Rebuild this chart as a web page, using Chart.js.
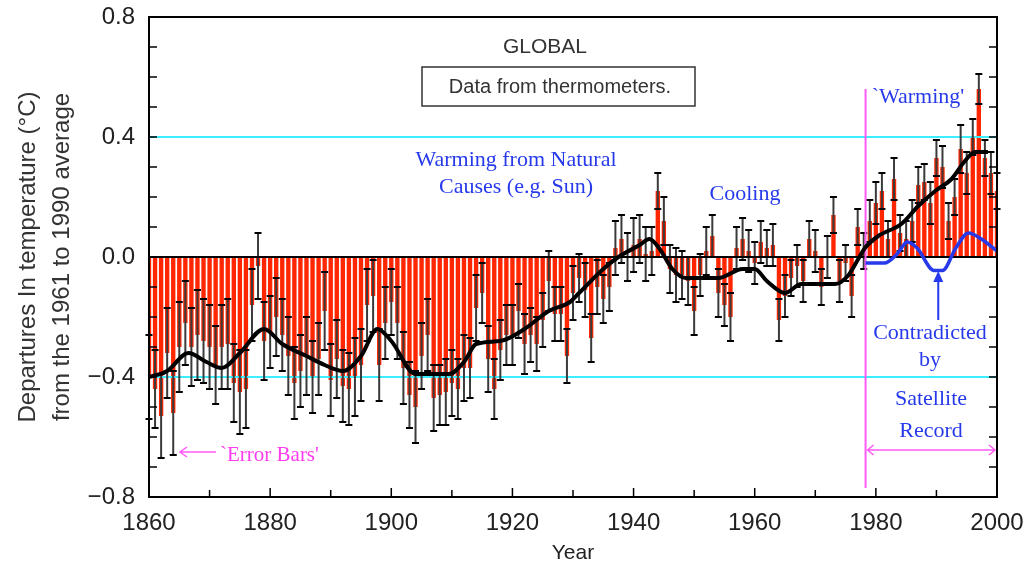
<!DOCTYPE html>
<html>
<head>
<meta charset="utf-8">
<script src="https://cdn.jsdelivr.net/npm/chart.js@4.4.0/dist/chart.umd.min.js"></script>
<style>
  html, body { margin: 0; padding: 0; background: #fff; }
  #wrap { width: 1030px; height: 566px; }
</style>
</head>
<body>
<div id="wrap"><canvas id="myChart" width="1030" height="566"></canvas></div>
<script>
// annual departures (°C), one per year starting at firstYear
const firstYear = 1860;
const anomalies = [
  -0.40, -0.44, -0.53, -0.32, -0.52, -0.30, -0.22, -0.30, -0.26, -0.28,
  -0.30, -0.36, -0.30, -0.29, -0.42, -0.45, -0.44, -0.16, -0.03, -0.28,
  -0.25, -0.20, -0.26, -0.33, -0.42, -0.38, -0.33, -0.40, -0.34, -0.18,
  -0.41, -0.34, -0.43, -0.44, -0.40, -0.36, -0.16, -0.13, -0.36, -0.22,
  -0.15, -0.22, -0.37, -0.46, -0.50, -0.33, -0.26, -0.47, -0.46, -0.45,
  -0.42, -0.44, -0.37, -0.37, -0.17, -0.12, -0.34, -0.44, -0.31, -0.26,
  -0.26, -0.18, -0.29, -0.26, -0.29, -0.21, -0.08, -0.19, -0.19, -0.33,
  -0.12, -0.07, -0.11, -0.27, -0.10, -0.14, -0.10,  0.03,  0.06,  0.00,
   0.04,  0.06,  0.01,  0.02,  0.22,  0.12, -0.04, -0.06, -0.06, -0.08,
  -0.18, -0.06,  0.02,  0.07, -0.12, -0.16, -0.20,  0.03,  0.06,  0.02,
  -0.02,  0.05,  0.03,  0.04, -0.21, -0.13, -0.07, -0.03, -0.08,  0.06,
   0.02, -0.10,  0.00,  0.14, -0.08, -0.02, -0.13,  0.10,  0.02,  0.12,
   0.18,  0.22,  0.06,  0.26,  0.08,  0.06,  0.12,  0.24,  0.25,  0.18,
   0.33,  0.30,  0.12,  0.20,  0.36,  0.28,  0.40,  0.56,  0.33,  0.28,
   0.22
];
// half length of each error bar
const errors = [
  0.14, 0.13, 0.14, 0.15, 0.14, 0.15, 0.14, 0.13, 0.15, 0.14,
  0.14, 0.13, 0.14, 0.15, 0.13, 0.14, 0.13, 0.12, 0.11, 0.13,
  0.12, 0.13, 0.12, 0.13, 0.12, 0.12, 0.13, 0.12, 0.12, 0.13,
  0.12, 0.13, 0.12, 0.12, 0.13, 0.12, 0.12, 0.12, 0.12, 0.12,
  0.11, 0.12, 0.12, 0.11, 0.12, 0.11, 0.12, 0.11, 0.10, 0.11,
  0.11, 0.10, 0.11, 0.10, 0.11, 0.10, 0.11, 0.10, 0.10, 0.10,
  0.10, 0.09, 0.10, 0.09, 0.09, 0.09, 0.10, 0.09, 0.09, 0.09,
  0.09, 0.08, 0.09, 0.08, 0.09, 0.08, 0.08, 0.09, 0.08, 0.08,
  0.09, 0.08, 0.09, 0.08, 0.06, 0.08, 0.08, 0.09, 0.08, 0.08,
  0.08, 0.07, 0.08, 0.07, 0.08, 0.07, 0.08, 0.07, 0.07, 0.07,
  0.07, 0.07, 0.06, 0.07, 0.07, 0.07, 0.06, 0.07, 0.07, 0.06,
  0.07, 0.06, 0.07, 0.06, 0.07, 0.06, 0.07, 0.06, 0.06, 0.07,
  0.07, 0.06, 0.06, 0.07, 0.06, 0.06, 0.07, 0.06, 0.06, 0.07,
  0.06, 0.07, 0.06, 0.06, 0.08, 0.07, 0.06, 0.05, 0.06, 0.07,
  0.06
];
const smoothYears  = [1860, 1863, 1866.5, 1869.5, 1872, 1875, 1879, 1882, 1886, 1889, 1892, 1895, 1897.7, 1900, 1904, 1909.5, 1912, 1914, 1918, 1922, 1926, 1929.5, 1931, 1935, 1937.5, 1941, 1942.6, 1944.2, 1946.4, 1948.6, 1954, 1958, 1960, 1962, 1965, 1967.7, 1973.3, 1975.5, 1977, 1978.2, 1980.4, 1984.2, 1987, 1989.8, 1992.5, 1994.7, 1996.4, 1998.5];
const smoothValues = [-0.40, -0.38, -0.32, -0.35, -0.37, -0.32, -0.24, -0.29, -0.33, -0.36, -0.38, -0.33, -0.24, -0.28, -0.39, -0.39, -0.35, -0.29, -0.28, -0.24, -0.18, -0.15, -0.12, -0.04, 0.00, 0.04, 0.06, 0.03, -0.04, -0.07, -0.07, -0.04, -0.04, -0.08, -0.12, -0.09, -0.09, -0.06, -0.01, 0.03, 0.07, 0.11, 0.17, 0.22, 0.26, 0.32, 0.35, 0.35];
// satellite record
const satYears  = [1978.3, 1981.4, 1983.5, 1985.2, 1986.8, 1989.6, 1991.0, 1993.2, 1995.3, 1997.4, 2000];
const satValues = [-0.02, -0.02, 0.01, 0.05, 0.03, -0.045, -0.045, 0.03, 0.08, 0.06, 0.02];

const satelliteStart = 1978.3;
const tickFont = { family: 'Liberation Sans, Arial, sans-serif', size: 24 };
const noteFont = 'Liberation Serif, serif';
const red = 'rgb(255, 38, 0)';
const blue = 'rgb(38, 58, 236)';
const magenta = 'rgb(255, 90, 245)';
const cyan = 'rgb(60, 238, 255)';

const years = anomalies.map(function (v, i) { return firstYear + i; });

function points(xs, ys) {
  return xs.map(function (x, i) { return { x: x, y: ys[i] }; });
}

const overlay = {
  id: 'overlay',
  afterDatasetDraw: function (chart, args) {
    if (args.index !== 0) return;
    const ctx = chart.ctx;
    const xs = chart.scales.x, ys = chart.scales.y;
    const area = chart.chartArea;
    ctx.save();
    // reference lines at +-0.4
    ctx.strokeStyle = cyan;
    ctx.lineWidth = 2;
    [0.4, -0.4].forEach(function (v) {
      const y = ys.getPixelForValue(v);
      ctx.beginPath(); ctx.moveTo(area.left, y); ctx.lineTo(area.right, y); ctx.stroke();
    });
    // error bars
    years.forEach(function (yr, i) {
      const x = xs.getPixelForValue(yr);
      const top = ys.getPixelForValue(anomalies[i] + errors[i]);
      const bot = ys.getPixelForValue(anomalies[i] - errors[i]);
      ctx.strokeStyle = '#3a3a3a';
      ctx.lineWidth = 2;
      ctx.beginPath(); ctx.moveTo(x, top); ctx.lineTo(x, bot); ctx.stroke();
      ctx.strokeStyle = '#000';
      ctx.beginPath();
      ctx.moveTo(x - 3.5, top); ctx.lineTo(x + 3.5, top);
      ctx.moveTo(x - 3.5, bot); ctx.lineTo(x + 3.5, bot);
      ctx.stroke();
    });
    // zero line
    const y0 = ys.getPixelForValue(0);
    ctx.strokeStyle = '#000';
    ctx.lineWidth = 2;
    ctx.beginPath(); ctx.moveTo(area.left, y0); ctx.lineTo(area.right, y0); ctx.stroke();
    // start of satellite era
    const xm = xs.getPixelForValue(satelliteStart);
    ctx.strokeStyle = magenta;
    ctx.lineWidth = 2;
    ctx.beginPath(); ctx.moveTo(xm, ys.getPixelForValue(0.56)); ctx.lineTo(xm, ys.getPixelForValue(-0.77)); ctx.stroke();
    ctx.restore();
  },
  afterDraw: function (chart) {
    const ctx = chart.ctx;
    const xs = chart.scales.x, ys = chart.scales.y;
    const a = chart.chartArea;
    ctx.save();
    // frame and inward ticks
    ctx.strokeStyle = '#000';
    ctx.lineWidth = 2;
    ctx.strokeRect(a.left, a.top, a.right - a.left, a.bottom - a.top);
    ctx.lineWidth = 1.5;
    ctx.beginPath();
    for (let v = -7; v <= 7; v++) {
      const y = ys.getPixelForValue(v / 10);
      ctx.moveTo(a.left, y); ctx.lineTo(a.left + 8, y);
      ctx.moveTo(a.right, y); ctx.lineTo(a.right - 8, y);
    }
    for (let yr = 1870; yr < 2000; yr += 10) {
      const x = xs.getPixelForValue(yr);
      const len = (yr % 20 === 0) ? 9 : 7;
      ctx.moveTo(x, a.bottom); ctx.lineTo(x, a.bottom - len);
    }
    ctx.stroke();

    // texts
    ctx.fillStyle = '#333';
    ctx.textAlign = 'center';
    ctx.textBaseline = 'middle';
    ctx.font = '21px Liberation Sans, Arial, sans-serif';
    ctx.fillText('GLOBAL', 545, 47);
    ctx.strokeStyle = '#333';
    ctx.lineWidth = 1.5;
    ctx.strokeRect(422, 67, 273, 39);
    ctx.font = '20px Liberation Sans, Arial, sans-serif';
    ctx.fillText('Data from thermometers.', 560, 87);

    ctx.fillStyle = blue;
    ctx.font = '22px ' + noteFont;
    ctx.fillText('Warming from Natural', 516, 160);
    ctx.fillText('Causes (e.g. Sun)', 516, 187);
    ctx.fillText('Cooling', 745, 194);
    ctx.fillText('`Warming\'', 918, 97);
    ctx.fillText('Contradicted', 930, 333);
    ctx.fillText('by', 930, 360);
    ctx.fillText('Satellite', 931, 399);
    ctx.fillText('Record', 931, 431);

    // arrow to the dip of the satellite line
    const xa = xs.getPixelForValue(1990.3);
    ctx.strokeStyle = blue;
    ctx.fillStyle = blue;
    ctx.lineWidth = 2;
    ctx.beginPath(); ctx.moveTo(xa, 320); ctx.lineTo(xa, 274); ctx.stroke();
    ctx.beginPath(); ctx.moveTo(xa, 271); ctx.lineTo(xa - 5, 282); ctx.lineTo(xa + 5, 282); ctx.closePath(); ctx.fill();

    // satellite era span
    const xm = xs.getPixelForValue(satelliteStart);
    const ys2 = 450;
    ctx.strokeStyle = magenta;
    ctx.lineWidth = 1.5;
    ctx.beginPath();
    ctx.moveTo(xm + 2, ys2); ctx.lineTo(a.right - 2, ys2);
    ctx.moveTo(xm + 8, ys2 - 5); ctx.lineTo(xm + 2, ys2); ctx.lineTo(xm + 8, ys2 + 5);
    ctx.moveTo(a.right - 8, ys2 - 5); ctx.lineTo(a.right - 2, ys2); ctx.lineTo(a.right - 8, ys2 + 5);
    ctx.stroke();

    // error bars note
    ctx.beginPath();
    ctx.moveTo(180, 452); ctx.lineTo(216, 452);
    ctx.moveTo(187, 447); ctx.lineTo(180, 452); ctx.lineTo(187, 457);
    ctx.stroke();
    ctx.fillStyle = 'rgb(255, 60, 240)';
    ctx.font = '21px ' + noteFont;
    ctx.textAlign = 'left';
    ctx.fillText('`Error Bars\'', 220, 455);
    ctx.restore();
  }
};

function noEdgePadding(s) {
  s.paddingTop = 0; s.paddingBottom = 0;
  s.paddingLeft = 0; s.paddingRight = 0;
}

const ctx = document.getElementById('myChart');
const myChart = new Chart(ctx, {
  data: {
    datasets: [
      {
        type: 'bar',
        data: points(years, anomalies),
        backgroundColor: red,
        borderWidth: 0,
        barPercentage: 0.72,
        categoryPercentage: 1,
        order: 3
      },
      {
        type: 'line',
        data: points(smoothYears, smoothValues),
        borderColor: '#000',
        borderWidth: 4,
        pointRadius: 0,
        cubicInterpolationMode: 'monotone',
        order: 1
      },
      {
        type: 'line',
        data: points(satYears, satValues),
        borderColor: blue,
        borderWidth: 3.5,
        pointRadius: 0,
        cubicInterpolationMode: 'monotone',
        order: 0
      }
    ]
  },
  options: {
    responsive: false,
    animation: false,
    devicePixelRatio: 1,
    layout: { padding: { top: 17, right: 33, left: 0, bottom: 0 } },
    plugins: { legend: { display: false }, tooltip: { enabled: false } },
    scales: {
      x: {
        type: 'linear',
        offset: false,
        min: 1860,
        max: 2000,
        grid: { display: false, drawTicks: false, offset: false },
        border: { display: true, color: '#000', width: 2 },
        ticks: {
          stepSize: 20,
          padding: 12,
          color: '#222',
          font: tickFont,
          maxRotation: 0,
          callback: function (v) { return String(v); }
        },
        title: {
          display: true,
          text: 'Year',
          color: '#222',
          font: { family: tickFont.family, size: 21 },
          padding: { top: 0, bottom: 0 }
        },
        afterFit: function (s) { s.height = 69; noEdgePadding(s); }
      },
      y: {
        min: -0.8,
        max: 0.8,
        grid: { display: false, drawTicks: false },
        border: { display: true, color: '#000', width: 2 },
        ticks: {
          stepSize: 0.4,
          padding: 14,
          color: '#222',
          font: tickFont,
          callback: function (v) {
            if (Math.abs(v) < 1e-9) return '0.0';
            return (v < 0 ? '\u2212' : '') + Math.abs(v).toFixed(1);
          }
        },
        title: {
          display: true,
          text: ['Departures In temperature (\u00B0C)', 'from the 1961 to 1990 average'],
          color: '#333',
          font: { family: tickFont.family, size: 24, lineHeight: 1.4 },
          padding: { top: 12, bottom: 0 }
        },
        afterFit: function (s) { s.width = 149; noEdgePadding(s); }
      }
    }
  },
  plugins: [overlay]
});
</script>
</body>
</html>
